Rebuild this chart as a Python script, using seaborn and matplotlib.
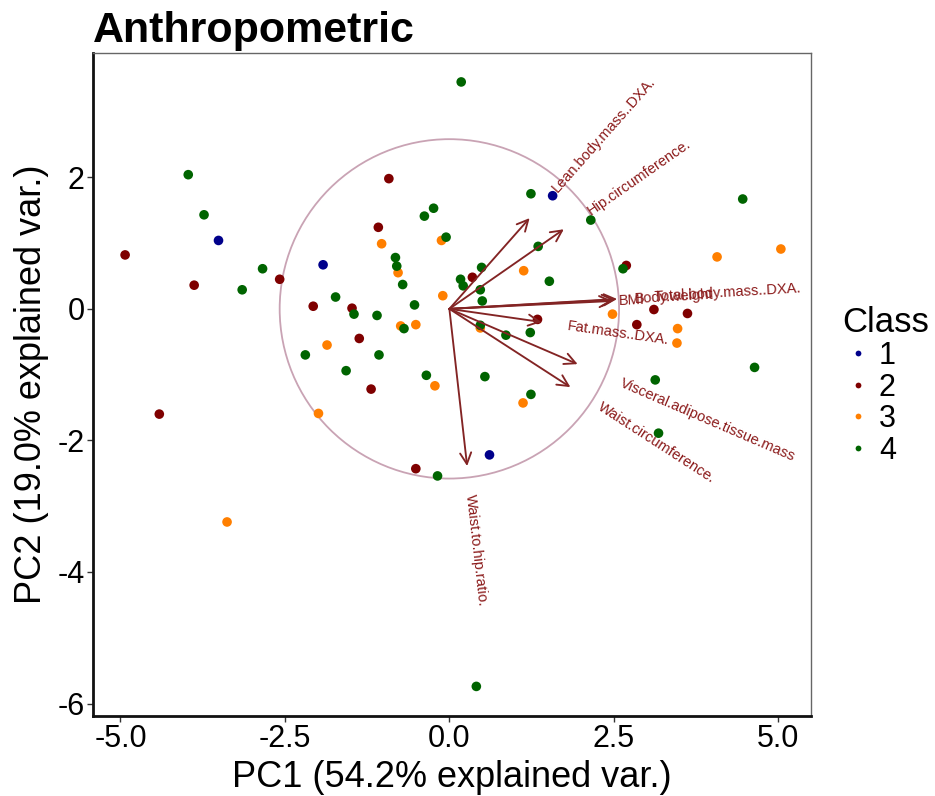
import numpy as np
import pandas as pd
import matplotlib
matplotlib.use("Agg")
import matplotlib.pyplot as plt
from matplotlib.patches import Circle
import seaborn as sns

# ---------------- data ----------------
class1_x = [-3.51, -1.92, 1.57, 0.61]
class1_y = [1.04, 0.67, 1.72, -2.22]

class2_x = [-4.93, -3.88, -2.58, -0.92, -1.08, -2.07, -1.48, -1.37, -1.19, -4.41,
            -0.51, 0.35, 2.69, 3.11, 3.62, 2.85, 1.34]
class2_y = [0.82, 0.36, 0.45, 1.98, 1.24, 0.04, 0.01, -0.45, -1.22, -1.60,
            -2.43, 0.48, 0.66, -0.01, -0.07, -0.24, -0.16]

class3_x = [-1.03, -0.12, -0.78, -0.10, -0.74, -0.51, -1.86, -0.22, -1.99, -3.38,
            5.04, 4.07, 1.13, 2.48, 3.47, 3.46, 0.47, 1.12]
class3_y = [0.99, 1.04, 0.55, 0.20, -0.26, -0.24, -0.55, -1.17, -1.59, -3.24,
            0.91, 0.79, 0.58, -0.08, -0.30, -0.52, -0.29, -1.43]

class4_x = [-3.97, -3.73, -2.84, -3.15, -0.24, -0.38, -0.05, -0.82, -0.80, -0.71,
            -1.73, -1.45, -1.10, -0.53, -0.69, -2.19, -1.07, -1.57, -0.35, -0.18,
            0.18, 1.24, 2.15, 4.46, 2.64, 1.52, 1.35, 0.49, 0.17, 0.21,
            0.47, 0.50, 0.47, 0.86, 1.23, 4.64, 0.54, 1.24, 3.13, 3.18, 0.41]
class4_y = [2.04, 1.43, 0.61, 0.29, 1.53, 1.41, 1.09, 0.78, 0.65, 0.37,
            0.18, -0.08, -0.10, 0.06, -0.30, -0.70, -0.70, -0.94, -1.01, -2.54,
            3.45, 1.75, 1.35, 1.67, 0.61, 0.42, 0.95, 0.63, 0.45, 0.35,
            0.29, 0.12, -0.25, -0.40, -0.36, -0.89, -1.03, -1.30, -1.08, -1.89, -5.74]

var_names = ["Lean.body.mass..DXA.", "Hip.circumference.", "BMI", "Body.weight",
             "Total.body.mass..DXA.", "Fat.mass..DXA.", "Visceral.adipose.tissue.mass",
             "Waist.circumference.", "Waist.to.hip.ratio."]
var_x = [1.22, 1.74, 2.48, 2.52, 2.55, 1.40, 1.95, 1.84, 0.27]
var_y = [1.38, 1.21, 0.12, 0.14, 0.15, -0.20, -0.84, -1.19, -2.39]

circle_radius = 2.58
class_labels = ["1", "2", "3", "4"]
class_colors = ["#00008B", "#7F0000", "#FF7F00", "#006400"]

title = "Anthropometric"
xlabel = "PC1 (54.2% explained var.)"
ylabel = "PC2 (19.0% explained var.)"
x_ticks = [-5.0, -2.5, 0.0, 2.5, 5.0]
y_ticks = [-6, -4, -2, 0, 2]

# ---------------- build frame ----------------
frames = []
for lab, xs, ys in zip(class_labels, [class1_x, class2_x, class3_x, class4_x],
                       [class1_y, class2_y, class3_y, class4_y]):
    frames.append(pd.DataFrame({"PC1": xs, "PC2": ys, "Class": lab}))
df = pd.concat(frames, ignore_index=True)

# ---------------- style ----------------
sns.set_theme(style="white")
plt.rcParams["font.family"] = ["Liberation Sans", "DejaVu Sans"]
plt.rcParams["text.color"] = "black"
plt.rcParams["axes.labelcolor"] = "black"
plt.rcParams["xtick.color"] = "#333333"
plt.rcParams["ytick.color"] = "#333333"
plt.rcParams["xtick.labelcolor"] = "black"
plt.rcParams["ytick.labelcolor"] = "black"

fig = plt.figure(figsize=(9.35, 7.96), dpi=100)
ax = fig.add_axes([93 / 935, 1 - 716 / 796, 718 / 935, 663 / 796])

# circle
ax.add_patch(Circle((0, 0), circle_radius, fill=False, edgecolor="#C9A3B4", lw=1.3, zorder=1))

# points
sns.scatterplot(data=df, x="PC1", y="PC2", hue="Class", hue_order=class_labels,
                palette=class_colors, s=48, linewidth=0, ax=ax, zorder=2)

# arrows
arrow_col = "#832424"
for vx, vy in zip(var_x, var_y):
    ax.annotate("", xy=(vx, vy), xytext=(0, 0),
                arrowprops=dict(arrowstyle="->", color=arrow_col, lw=1.35,
                                mutation_scale=20, shrinkA=0, shrinkB=0),
                zorder=3)

ax.set_xlim(-5.45, 5.53)
ax.set_ylim(-6.19, 3.89)
ax.set_aspect("equal", adjustable="datalim")
ax.set_xticks(x_ticks)
ax.set_xticklabels([f"{t:.1f}" for t in x_ticks])
ax.set_yticks(y_ticks)
ax.set_yticklabels([str(t) for t in y_ticks])
ax.tick_params(axis="both", which="both", labelsize=22, length=4, width=1,
               direction="out", bottom=True, left=True, pad=2)
ax.set_xlabel(xlabel, fontsize=26, labelpad=4, color="black")
ax.set_ylabel(ylabel, fontsize=26, labelpad=6, color="black")
ax.set_title(title, loc="left", fontsize=31, fontweight="bold", pad=8, color="black")

for side in ["top", "right"]:
    ax.spines[side].set_color("#666666")
    ax.spines[side].set_linewidth(1.0)
for side in ["left", "bottom"]:
    ax.spines[side].set_color("#111111")
    ax.spines[side].set_linewidth(2.0)

# variable labels (ggbiplot style: angle = atan(y/x), hjust = -0.25)
fig.canvas.draw()
renderer = fig.canvas.get_renderer()
for name, vx, vy in zip(var_names, var_x, var_y):
    ang = np.degrees(np.arctan(vy / vx))
    tmp = ax.text(0, 0, name, fontsize=10.5)
    w = tmp.get_window_extent(renderer).width
    tmp.remove()
    off = 0.25 * w * 72 / fig.dpi
    dx = off * np.cos(np.radians(ang))
    dy = off * np.sin(np.radians(ang))
    ax.annotate(name, xy=(vx, vy), xytext=(dx, dy), textcoords="offset points",
                rotation=ang, rotation_mode="anchor", ha="left", va="center",
                fontsize=10.5, color="#8B1A1A", zorder=4)

# legend
sns.move_legend(ax, loc="center left", bbox_to_anchor=(827 / 935, 1 - 386 / 796),
                bbox_transform=fig.transFigure, frameon=False, title="Class",
                fontsize=22, title_fontsize=25, markerscale=0.6,
                labelspacing=0.05, handletextpad=0.2, handlelength=1.0,
                alignment="left", borderpad=0)

fig.savefig("out.png", dpi=100)
